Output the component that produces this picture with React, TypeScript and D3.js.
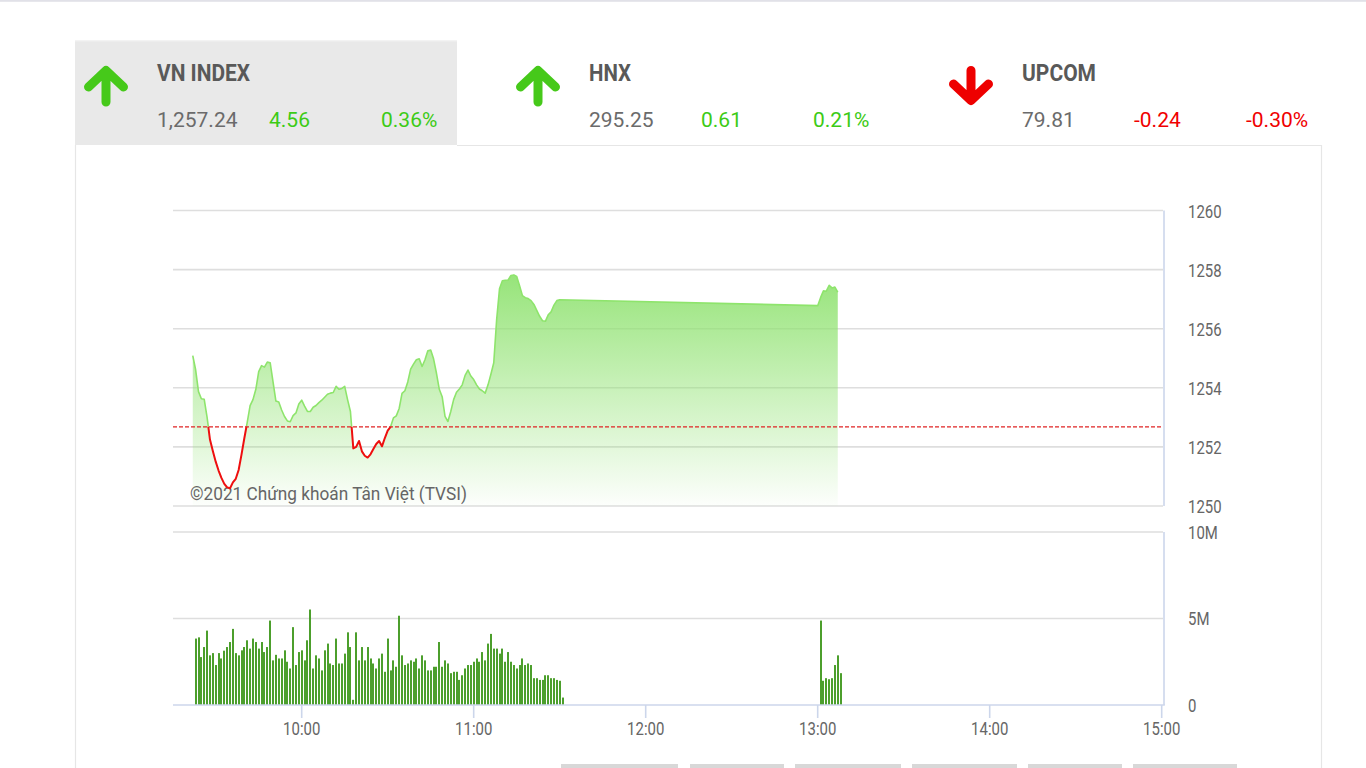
import React from "react";
import * as d3 from "d3";

// ---------- header data ----------
const indexNames = ["VN INDEX", "HNX", "UPCOM"];
const indexNameWidths = [93, 42, 74];
const indexValues = ["1,257.24", "295.25", "79.81"];
const indexChanges = ["4.56", "0.61", "-0.24"];
const indexPercents = ["0.36%", "0.21%", "-0.30%"];
const indexUp = [true, true, false];

// ---------- chart data ----------
const referencePrice = 1252.68;
const priceMorningStart = "09:22";
const priceMorning = [
  1255.09, 1254.61, 1253.87, 1253.63, 1253.61, 1253.0, 1252.25, 1251.86, 1251.5, 1251.2,
  1250.95, 1250.75, 1250.63, 1250.6, 1250.8, 1250.92, 1251.22, 1251.74, 1252.3, 1252.83,
  1253.4, 1253.6, 1253.95, 1254.55, 1254.75, 1254.7, 1254.87, 1254.85, 1254.2, 1253.55,
  1253.52, 1253.25, 1253.03, 1252.88, 1252.85, 1253.06, 1253.15, 1253.45, 1253.58, 1253.38,
  1253.2, 1253.2, 1253.34, 1253.4, 1253.5, 1253.58, 1253.68, 1253.78, 1253.82, 1253.84,
  1254.05, 1253.95, 1253.98, 1254.05, 1253.6, 1253.2, 1251.95, 1252.0, 1252.2, 1251.85,
  1251.7, 1251.64, 1251.75, 1251.93, 1252.1, 1252.2, 1252.02, 1252.3, 1252.55, 1252.68,
  1252.98, 1253.05, 1253.3, 1253.81, 1253.9, 1254.2, 1254.63, 1254.8, 1254.95, 1254.98,
  1254.72, 1254.95, 1255.25, 1255.28, 1254.98, 1254.5, 1253.95, 1253.7, 1253.03, 1252.86,
  1253.2, 1253.6, 1253.85, 1253.96, 1254.1, 1254.42, 1254.6, 1254.4, 1254.28, 1254.1,
  1253.96, 1253.9, 1253.82, 1254.1, 1254.46, 1254.85, 1256.3, 1257.35, 1257.62, 1257.64,
  1257.65, 1257.8, 1257.82, 1257.77, 1257.45, 1257.12, 1257.05, 1257.02, 1256.95, 1256.82,
  1256.62, 1256.42, 1256.27, 1256.25, 1256.47, 1256.57, 1256.8, 1256.95, 1256.98,
];
const priceAfternoonStart = "13:00";
const priceAfternoon = [1256.78, 1257.05, 1257.28, 1257.27, 1257.47, 1257.38, 1257.41, 1257.24];

// volumes in millions
const volumeMorningStart = "09:23";
const volumeMorning = [
  3.84, 3.91, 2.77, 3.35, 4.3, 2.87, 3.0, 2.31, 3.0, 2.69,
  3.14, 3.35, 3.64, 4.4, 3.0, 2.87, 3.16, 3.35, 3.74, 3.26,
  3.84, 3.64, 3.26, 3.64, 3.06, 3.35, 4.88, 2.58, 2.9, 2.69,
  2.69, 3.16, 2.5, 2.11, 4.5, 2.31, 3.06, 3.16, 2.58, 3.74,
  5.52, 2.11, 2.87, 2.69, 2.0, 3.16, 3.55, 2.4, 2.31, 3.84,
  2.4, 2.4, 2.97, 4.2, 3.35, 0.3, 4.2, 2.58, 3.35, 2.58,
  3.35, 2.69, 2.4, 2.11, 2.69, 2.97, 1.92, 3.84, 2.0, 2.58,
  2.21, 5.16, 2.87, 2.31, 2.4, 2.58, 2.5, 2.69, 2.11, 2.87,
  2.58, 2.0, 2.0, 2.21, 2.21, 3.64, 2.21, 2.58, 2.4, 1.84,
  1.92, 1.92, 1.45, 1.72, 2.11, 2.31, 2.31, 2.5, 2.69, 2.5,
  3.06, 2.58, 3.55, 4.11, 3.26, 3.26, 2.97, 3.26, 2.5, 3.06,
  2.5, 2.31, 2.11, 2.31, 2.69, 2.31, 2.4, 2.31, 1.55, 1.55,
  1.45, 1.45, 1.72, 1.72, 1.55, 1.55, 1.45, 1.4, 0.43,
];
const volumeAfternoonStart = "13:01";
const volumeAfternoon = [4.88, 1.4, 1.55, 1.49, 1.55, 2.31, 2.87, 1.84];

const priceTicks = [1250, 1252, 1254, 1256, 1258, 1260];
const volumeTicks = [0, 5, 10];
const volumeTickLabels = ["0", "5M", "10M"];
const timeTicks = ["10:00", "11:00", "12:00", "13:00", "14:00", "15:00"];
const axisStart = "09:15";
const axisEnd = "15:00";
const watermark = "©2021 Chứng khoán Tân Việt (TVSI)";
const bottomButtons = [
  [561, 678],
  [690, 784],
  [795, 901],
  [912, 1017],
  [1028, 1122],
  [1133, 1237],
];

// ---------- helpers ----------
const toDate = (s: string) => {
  const [h, m] = s.split(":").map(Number);
  return new Date(2021, 0, 4, h, m);
};
const series = (start: string, vals: number[]) => {
  const s = toDate(start);
  return vals.map((v, i) => ({ t: d3.timeMinute.offset(s, i), v }));
};

const GREEN = "#3ccb16";
const RED = "#f00000";
const AXIS_FONT = "Roboto, 'Noto Sans', sans-serif";

function Arrow({ cx, up }: { cx: number; up: boolean }) {
  const color = up ? "#46c91a" : "#ee0000";
  const d = up
    ? `M${cx - 17.5},87 L${cx},70.5 L${cx + 17.5},87 M${cx},71 L${cx},102`
    : `M${cx - 17.5},84 L${cx},100.5 L${cx + 17.5},84 M${cx},70.5 L${cx},100`;
  return (
    <path d={d} fill="none" stroke={color} strokeWidth={9} strokeLinecap="round" strokeLinejoin="round" />
  );
}

function CText({ x, y, anchor, children }: any) {
  return (
    <text
      transform={`translate(${x},${y}) scale(0.83,1)`}
      textAnchor={anchor || "start"}
      fontFamily={AXIS_FONT}
      fontSize={18}
      fill="#666666"
    >
      {children}
    </text>
  );
}

export default function App() {
  const W = 1366;
  const H = 768;
  const gridL = 173;
  const gridR = 1163;
  const axisX = 1164;
  const pTop = 210.5;
  const pBot = 506;
  const vTop = 532;
  const vBot = 705;

  const x = d3.scaleTime().domain([toDate(axisStart), toDate(axisEnd)]).range([172.7, 1161.7]);
  const yP = d3.scaleLinear().domain([1250, 1260]).range([pBot, pTop]);
  const yV = d3.scaleLinear().domain([0, 10]).range([vBot, vTop]);

  const prices = [...series(priceMorningStart, priceMorning), ...series(priceAfternoonStart, priceAfternoon)];
  const volumes = [...series(volumeMorningStart, volumeMorning), ...series(volumeAfternoonStart, volumeAfternoon)];

  const lineGen = d3
    .line<{ t: Date; v: number }>()
    .x((d) => x(d.t))
    .y((d) => yP(d.v));
  const areaGen = d3
    .area<{ t: Date; v: number }>()
    .x((d) => x(d.t))
    .y0(pBot)
    .y1((d) => yP(d.v));

  const refY = yP(referencePrice);
  const groupX = [75, 507, 939];

  return (
    <div style={{ position: "absolute", left: 0, top: 0, width: W, height: H, overflow: "hidden", background: "#fff" }}>
      <svg width={W} height={H} style={{ display: "block" }}>
        <defs>
          <linearGradient id="areaGrad" gradientUnits="userSpaceOnUse" x1={0} y1={278} x2={0} y2={pBot}>
            <stop offset="0" stopColor="#8fe270" stopOpacity={0.92} />
            <stop offset="1" stopColor="#8fe270" stopOpacity={0.02} />
          </linearGradient>
          <clipPath id="clipAbove">
            <rect x={0} y={0} width={W} height={refY} />
          </clipPath>
          <clipPath id="clipBelow">
            <rect x={0} y={refY} width={W} height={H - refY} />
          </clipPath>
        </defs>

        {/* page top line */}
        <rect x={0} y={0} width={W} height={1.8} fill="#e1e1e8" />

        {/* header box */}
        <rect x={75} y={40.5} width={382} height={104.5} fill="#e9e9e9" />
        <rect x={75} y={40.5} width={382} height={1} fill="#f1f1f1" />

        {/* container border */}
        <path d={`M75.5,145 L75.5,${H} M457,145.5 L1321.5,145.5 L1321.5,${H}`} fill="none" stroke="#e6e6e6" strokeWidth={1.2} />

        {/* header */}
        {indexNames.map((n, i) => {
          const gx = groupX[i];
          const nx = gx + 82 + (i === 2 ? 1 : 0);
          const col = indexUp[i] ? GREEN : RED;
          return (
            <g key={n}>
              <Arrow cx={gx + 31 + (i === 2 ? 1 : 0)} up={indexUp[i]} />
              <text
                x={nx}
                y={80.5}
                fontFamily="Roboto, sans-serif"
                fontWeight={700}
                fontSize={23}
                fill="#595959"
                textLength={indexNameWidths[i]}
                lengthAdjust="spacingAndGlyphs"
              >
                {n}
              </text>
              <text x={nx} y={126.5} fontFamily="Roboto, sans-serif" fontSize={21} fill="#6b6b6b">
                {indexValues[i]}
              </text>
              <text x={nx + 112} y={126.5} fontFamily="Roboto, sans-serif" fontSize={21} fill={col}>
                {indexChanges[i]}
              </text>
              <text x={nx + 224} y={126.5} fontFamily="Roboto, sans-serif" fontSize={21} fill={col}>
                {indexPercents[i]}
              </text>
            </g>
          );
        })}

        {/* price panel grid */}
        {priceTicks.map((t) => (
          <g key={t}>
            <line x1={gridL} x2={gridR} y1={yP(t)} y2={yP(t)} stroke="#dedede" strokeWidth={1.6} />
            <CText x={1188} y={yP(t) + 7.3}>
              {t}
            </CText>
          </g>
        ))}
        <line x1={axisX} x2={axisX} y1={pTop} y2={pBot} stroke="#ccd6eb" strokeWidth={1.6} />

        {/* area + line */}
        <path d={areaGen(prices) || ""} fill="url(#areaGrad)" />
        <text
          x={190}
          y={500}
          fontFamily="Roboto, sans-serif"
          fontSize={17.5}
          fill="#666666"
          textLength={277}
          lengthAdjust="spacingAndGlyphs"
        >
          {watermark}
        </text>
        <path d={lineGen(prices) || ""} fill="none" stroke="#8ee46c" strokeWidth={1.6} clipPath="url(#clipAbove)" strokeLinejoin="round" />
        <path d={lineGen(prices) || ""} fill="none" stroke="#ee0f0f" strokeWidth={2} clipPath="url(#clipBelow)" strokeLinejoin="round" />
        <line x1={gridL} x2={gridR} y1={refY} y2={refY} stroke="#e02525" strokeWidth={1.2} strokeDasharray="4,2" />

        {/* volume panel */}
        {volumeTicks.map((t, i) =>
          t === 0 ? null : (
            <line key={t} x1={gridL} x2={gridR} y1={yV(t)} y2={yV(t)} stroke="#dedede" strokeWidth={1.6} />
          )
        )}
        {volumeTicks.map((t, i) => (
          <CText key={"l" + t} x={1188} y={yV(t) + 6.5}>
            {volumeTickLabels[i]}
          </CText>
        ))}
        {volumes.map((d, i) => (
          <rect
            key={i}
            x={Math.round(x(d.t)) - 1}
            y={yV(d.v)}
            width={2}
            height={vBot - yV(d.v)}
            fill="#4c9f2c"
          />
        ))}
        <line x1={axisX} x2={axisX} y1={vTop} y2={vBot} stroke="#ccd6eb" strokeWidth={1.6} />
        <line x1={gridL} x2={axisX + 0.8} y1={vBot} y2={vBot} stroke="#ccd6eb" strokeWidth={1.6} />

        {/* time axis */}
        {timeTicks.map((t) => {
          const tx = x(toDate(t));
          return (
            <g key={t}>
              <line x1={tx} x2={tx} y1={vBot} y2={718} stroke="#ccd6eb" strokeWidth={1.6} />
              <CText x={tx} y={735} anchor="middle">
                {t}
              </CText>
            </g>
          );
        })}

        {/* bottom buttons */}
        {bottomButtons.map(([a, b], i) => (
          <rect key={i} x={a} y={764} width={b - a} height={4} fill="#d8d8d8" />
        ))}
      </svg>
    </div>
  );
}
